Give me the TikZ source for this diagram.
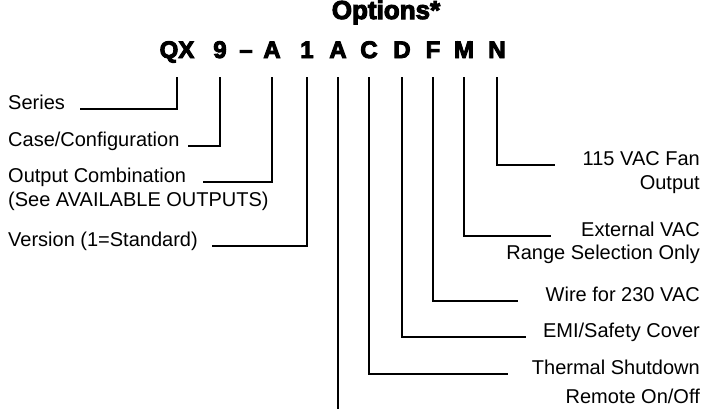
\documentclass[tikz,border=0pt]{standalone}
\usepackage{fontspec}
\setmainfont{Liberation Sans}
\newfontfamily\heavy{Liberation Sans}[UprightFont=* Bold, FakeBold=4]
\begin{document}
\begin{tikzpicture}[x=1pt,y=-1pt,
  conn/.style={line width=2.4pt},
  lbl/.style={font=\fontsize{20}{24}\selectfont, inner sep=0pt},
  lblL/.style={lbl, anchor=base west},
  lblR/.style={lbl, anchor=base east},
  codech/.style={font=\heavy\fontsize{24}{28}\selectfont, inner sep=0pt, anchor=base}]
\useasboundingbox (0,0) rectangle (702,408);
% title and code
\node[codech, font=\heavy\fontsize{26}{30}\selectfont] (opt) at (386,19) {Options*};
\node[codech] (qx) at (177,58) {QX};
\node[codech] (nine) at (220,58) {9};
\node[codech] (dash) at (246,58) {–};
\node[codech] (a1) at (272,58) {A};
\node[codech] (one) at (307,58) {1};
\node[codech] (a2) at (338,58) {A};
\node[codech] (c) at (369,58) {C};
\node[codech] (d) at (402,58) {D};
\node[codech] (f) at (433,58) {F};
\node[codech] (m) at (464,58) {M};
\node[codech] (n) at (497,58) {N};
\coordinate (top) at (0,77);
\coordinate (bottom) at (0,412);
% left labels
\node[lblL] (series) at (8,109) {Series};
\node[lblL] (case) at (8,146) {Case/Configuration};
\node[lblL] (outc) at (8,182) {Output Combination};
\node[lblL] (outc2) at (8,206) {(See AVAILABLE OUTPUTS)};
\node[lblL] (version) at (8,246) {Version (1=Standard)};
% right labels
\node[lblR] (fan) at (700,165) {115 VAC Fan};
\node[lblR] (fan2) at (700,189) {Output};
\node[lblR] (ext) at (700,236) {External VAC};
\node[lblR] (ext2) at (700,259) {Range Selection Only};
\node[lblR] (wire) at (700,301) {Wire for 230 VAC};
\node[lblR] (emi) at (700,337) {EMI/Safety Cover};
\node[lblR] (therm) at (700,374) {Thermal Shutdown};
\node[lblR] (remote) at (700,403) {Remote On/Off};
% connector ends
\coordinate (seriesend) at (80,109);
\coordinate (caseend) at (188,146);
\coordinate (outcend) at (203,182);
\coordinate (versionend) at (212,246);
\coordinate (fanend) at (555,165);
\coordinate (extend) at (551,236);
\coordinate (wireend) at (518,301);
\coordinate (emiend) at (526,337);
\coordinate (thermend) at (508,374);
% connectors
\draw[conn] (qx |- top) |- (seriesend);
\draw[conn] (nine |- top) |- (caseend);
\draw[conn] (a1 |- top) |- (outcend);
\draw[conn] (one |- top) |- (versionend);
\draw[conn] (a2 |- top) -- (a2 |- bottom);
\draw[conn] (c |- top) |- (thermend);
\draw[conn] (d |- top) |- (emiend);
\draw[conn] (f |- top) |- (wireend);
\draw[conn] (m |- top) |- (extend);
\draw[conn] (n |- top) |- (fanend);
\end{tikzpicture}
\end{document}
